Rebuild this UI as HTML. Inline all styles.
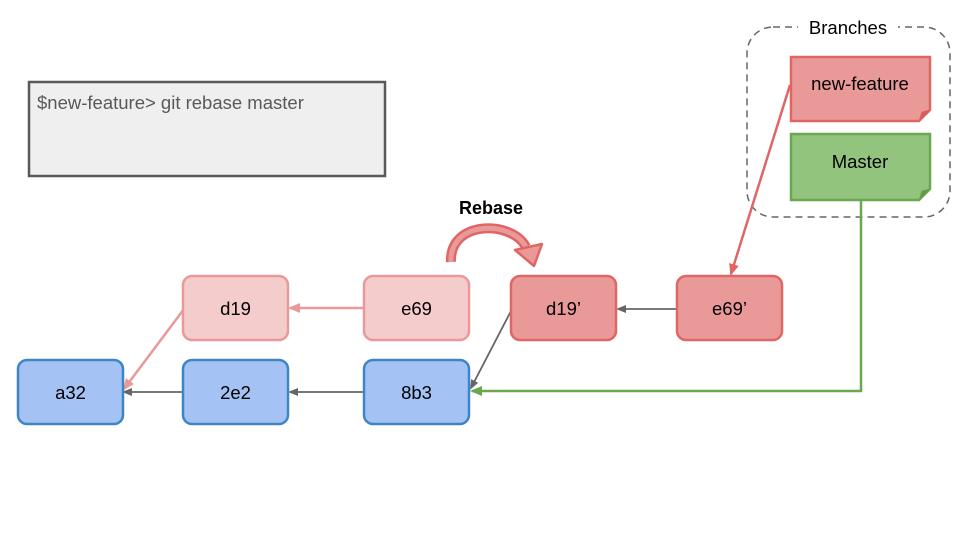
<!DOCTYPE html>
<html><head><meta charset="utf-8"><style>
html,body{margin:0;padding:0;background:#fff;}
svg{display:block;}
text{font-family:"Liberation Sans",Arial,sans-serif;}
</style></head><body>
<svg width="960" height="540" viewBox="0 0 960 540" xmlns="http://www.w3.org/2000/svg">
<defs>
<marker id="ag" markerWidth="10" markerHeight="10" refX="8" refY="5" orient="auto" markerUnits="userSpaceOnUse"><path d="M0,1 L10,5 L0,9 z" fill="#666"/></marker>
<marker id="ap" markerWidth="12" markerHeight="12" refX="10" refY="6" orient="auto" markerUnits="userSpaceOnUse"><path d="M0,1 L12,6 L0,11 z" fill="#ea9999"/></marker>
<marker id="ar" markerWidth="12" markerHeight="12" refX="10" refY="6" orient="auto" markerUnits="userSpaceOnUse"><path d="M0,1 L12,6 L0,11 z" fill="#e06666"/></marker>
<marker id="agr" markerWidth="12" markerHeight="12" refX="10" refY="6" orient="auto" markerUnits="userSpaceOnUse"><path d="M0,1 L12,6 L0,11 z" fill="#6aa84f"/></marker>
</defs>

<rect x="29" y="82" width="356" height="94" fill="#efefef" stroke="#595959" stroke-width="2.5"/>
<text x="37" y="109" font-size="18.5" fill="#595959">$new-feature&gt; git rebase master</text>

<rect x="747" y="27" width="203" height="190" rx="26" fill="none" stroke="#666" stroke-width="1.5" stroke-dasharray="7,5"/>
<rect x="798" y="15" width="100" height="26" fill="#fff"/>
<text x="848" y="34" font-size="18.5" fill="#000" text-anchor="middle">Branches</text>

<path d="M791,57 L930,57 L930,110 L919,121 L791,121 Z" fill="#ea9999" stroke="#e06666" stroke-width="2.5"/>
<path d="M930,110 L922,112 L919,121" fill="#d45d5d" stroke="#e06666" stroke-width="1"/>
<text x="860" y="90" font-size="18.5" text-anchor="middle">new-feature</text>

<path d="M791,134 L930,134 L930,189 L919,200 L791,200 Z" fill="#93c47d" stroke="#6aa84f" stroke-width="2.5"/>
<path d="M930,189 L922,191 L919,200" fill="#5f9a45" stroke="#6aa84f" stroke-width="1"/>
<text x="860" y="168" font-size="18.5" text-anchor="middle">Master</text>

<line x1="364" y1="308" x2="290" y2="308" stroke="#ea9999" stroke-width="2.5" marker-end="url(#ap)"/>
<line x1="184" y1="309" x2="124" y2="389" stroke="#ea9999" stroke-width="2.5" marker-end="url(#ap)"/>
<line x1="677" y1="309" x2="618" y2="309" stroke="#666" stroke-width="1.8" marker-end="url(#ag)"/>
<line x1="512" y1="309" x2="471" y2="388" stroke="#666" stroke-width="1.8" marker-end="url(#ag)"/>
<line x1="364" y1="392" x2="290" y2="392" stroke="#666" stroke-width="1.8" marker-end="url(#ag)"/>
<line x1="183" y1="392" x2="124" y2="392" stroke="#666" stroke-width="1.8" marker-end="url(#ag)"/>
<line x1="790" y1="85" x2="731" y2="274" stroke="#e06666" stroke-width="2.5" marker-end="url(#ar)"/>
<polyline points="861,200 861,391 472,391" fill="none" stroke="#6aa84f" stroke-width="2.5" marker-end="url(#agr)"/>

<path d="M451,262 C449,220 512,220 526,247" fill="none" stroke="#e06666" stroke-width="10"/>
<path d="M451,262 C449,220 512,220 526,247" fill="none" stroke="#ea9999" stroke-width="5"/>
<path d="M515,250 L542,244 L534,266 Z" fill="#ea9999" stroke="#e06666" stroke-width="2.5" stroke-linejoin="round"/>
<text x="491" y="214" font-size="18" font-weight="bold" text-anchor="middle">Rebase</text>

<g font-size="18.5" text-anchor="middle">
<rect x="183" y="276" width="105" height="64" rx="9" fill="#f4cccc" stroke="#ea9999" stroke-width="2.5"/>
<text x="235.5" y="315">d19</text>
<rect x="364" y="276" width="105" height="64" rx="9" fill="#f4cccc" stroke="#ea9999" stroke-width="2.5"/>
<text x="416.5" y="315">e69</text>
<rect x="511" y="276" width="105" height="64" rx="9" fill="#ea9999" stroke="#e06666" stroke-width="2.5"/>
<text x="563.5" y="315">d19’</text>
<rect x="677" y="276" width="105" height="64" rx="9" fill="#ea9999" stroke="#e06666" stroke-width="2.5"/>
<text x="729.5" y="315">e69’</text>
<rect x="18" y="360" width="105" height="64" rx="9" fill="#a4c2f4" stroke="#3d85c6" stroke-width="2.5"/>
<text x="70.5" y="399">a32</text>
<rect x="183" y="360" width="105" height="64" rx="9" fill="#a4c2f4" stroke="#3d85c6" stroke-width="2.5"/>
<text x="235.5" y="399">2e2</text>
<rect x="364" y="360" width="105" height="64" rx="9" fill="#a4c2f4" stroke="#3d85c6" stroke-width="2.5"/>
<text x="416.5" y="399">8b3</text>
</g>
</svg>
</body></html>
